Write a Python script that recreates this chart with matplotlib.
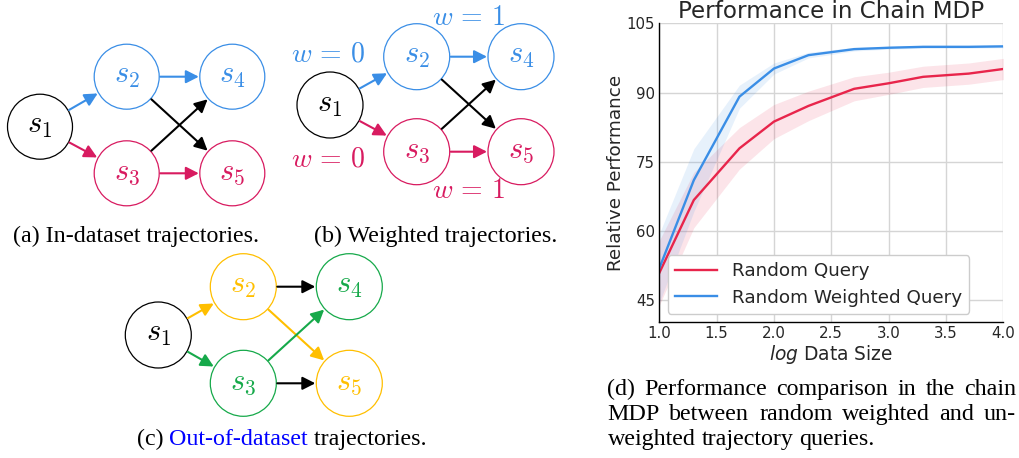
import matplotlib
matplotlib.use('Agg')
import matplotlib.pyplot as plt
from matplotlib.patches import Circle
import numpy as np

# ---------------- data (chart d) ----------------
log_size = [1.0, 1.301, 1.699, 2.0, 2.301, 2.699, 3.0, 3.301, 3.699, 4.0]
random_query = [50.9, 66.7, 77.9, 83.7, 87.1, 90.8, 92.0, 93.4, 94.1, 95.1]
random_query_std = [7.0, 6.0, 4.5, 3.7, 3.2, 2.6, 2.4, 2.3, 2.3, 2.3]
weighted_query = [51.9, 71.0, 89.1, 95.2, 98.1, 99.4, 99.7, 99.9, 99.9, 100.0]
weighted_query_std = [7.5, 6.8, 2.5, 1.2, 0.6, 0.4, 0.3, 0.3, 0.3, 0.3]
series_names = ["Random Query", "Random Weighted Query"]
x_ticks = [1.0, 1.5, 2.0, 2.5, 3.0, 3.5, 4.0]
y_ticks = [45, 60, 75, 90, 105]

# ---------------- diagram content ----------------
node_names = ["s1", "s2", "s3", "s4", "s5"]
node_labels = {"s1": r"$s_1$", "s2": r"$s_2$", "s3": r"$s_3$", "s4": r"$s_4$", "s5": r"$s_5$"}
edges = [("s1", "s2"), ("s1", "s3"), ("s2", "s4"), ("s3", "s5"), ("s2", "s5"), ("s3", "s4")]

BLUE = "#3a8ee6"
RED = "#d81b60"
YEL = "#ffbf00"
GRN = "#16a94a"
BLK = "#000000"

colors_a = {"s1": BLK, "s2": BLUE, "s3": RED, "s4": BLUE, "s5": RED}
edge_colors_a = [BLUE, RED, BLUE, RED, BLK, BLK]
colors_c = {"s1": BLK, "s2": YEL, "s3": GRN, "s4": GRN, "s5": YEL}
edge_colors_c = [YEL, GRN, BLK, BLK, YEL, GRN]

W, H = 1019, 458
fig = plt.figure(figsize=(W / 100, H / 100), dpi=100)
bg = fig.add_axes([0, 0, 1, 1])
bg.set_xlim(0, W)
bg.set_ylim(H, 0)
bg.axis('off')

plt.rcParams['mathtext.fontset'] = 'cm'
SERIF = ['Liberation Serif', 'DejaVu Serif']
NODE_FS = 22
W_FS = 20


def draw_graph(pos, ncol, ecol, r=33.0, fs=NODE_FS):
    for n in node_names:
        cx, cy = pos[n]
        bg.add_patch(Circle((cx, cy), r, fill=False, ec=ncol[n], lw=0.9))
        bg.text(cx, cy - 1, node_labels[n], ha='center', va='center', fontsize=fs,
                color=ncol[n])
    for (a, b), c in zip(edges, ecol):
        (x0, y0), (x1, y1) = pos[a], pos[b]
        d = np.hypot(x1 - x0, y1 - y0)
        ux, uy = (x1 - x0) / d, (y1 - y0) / d
        start = (x0 + ux * (r + 1), y0 + uy * (r + 1))
        end = (x1 - ux * (r + 1), y1 - uy * (r + 1))
        bg.annotate('', xy=end, xytext=start,
                    arrowprops=dict(arrowstyle='-|>,head_length=0.55,head_width=0.28',
                                    mutation_scale=14, color=c, lw=1.5,
                                    shrinkA=0, shrinkB=0))


pos_a = {"s1": (40, 126.7), "s2": (126.7, 76.7), "s3": (126.7, 173.3),
         "s4": (232.3, 76.7), "s5": (232.3, 173.3)}
pos_b = {"s1": (330, 105), "s2": (416.7, 56.7), "s3": (416.7, 151.7),
         "s4": (521, 56.7), "s5": (521, 151.7)}
pos_c = {"s1": (158.3, 335), "s2": (243.3, 286.7), "s3": (243.3, 383.3),
         "s4": (349.3, 286.7), "s5": (349.3, 383.3)}

draw_graph(pos_a, colors_a, edge_colors_a, r=32.5)
draw_graph(pos_b, colors_a, edge_colors_a, r=33.0)
draw_graph(pos_c, colors_c, edge_colors_c, r=33.0)

# weight labels in (b)
bg.text(328.3, 53.3, r"$w\,=\,0$", ha='center', va='center', fontsize=W_FS, color=BLUE)
bg.text(468.3, 16.7, r"$w\,=\,1$", ha='center', va='center', fontsize=W_FS, color=BLUE)
bg.text(328.3, 158.3, r"$w\,=\,0$", ha='center', va='center', fontsize=W_FS, color=RED)
bg.text(468.3, 190.0, r"$w\,=\,1$", ha='center', va='center', fontsize=W_FS, color=RED)

CAP_FS = 17.3
bg.text(136.5, 242, "(a) In-dataset trajectories.", ha='center', va='baseline',
        fontsize=CAP_FS, family=SERIF)
bg.text(435.8, 242, "(b) Weighted trajectories.", ha='center', va='baseline',
        fontsize=CAP_FS, family=SERIF)

renderer = fig.canvas.get_renderer()


def width_of(t):
    return t.get_window_extent(renderer).width


# (c) caption with coloured piece
pieces = [("(c) ", BLK), ("Out-of-dataset", "#0000ff"), (" trajectories.", BLK)]
tobjs = [bg.text(0, 445, s, ha='left', va='baseline', fontsize=CAP_FS, family=SERIF, color=c)
         for s, c in pieces]
ws = [width_of(t) for t in tobjs]
x = 281.7 - sum(ws) / 2
for t, w in zip(tobjs, ws):
    t.set_x(x)
    x += w

# (d) justified caption
cap_lines = [("(d) Performance comparison in the chain", True),
             ("MDP between random weighted and un-", True),
             ("weighted trajectory queries.", False)]
cap_y = [395, 420, 445]
x_left, x_right = 607.5, 1016
sp_probe = bg.text(0, 0, "x x", fontsize=CAP_FS, family=SERIF)
nsp_probe = bg.text(0, 0, "xx", fontsize=CAP_FS, family=SERIF)
space_w = width_of(sp_probe) - width_of(nsp_probe)
sp_probe.remove()
nsp_probe.remove()
for (line, just), yy in zip(cap_lines, cap_y):
    words = line.split(" ")
    objs = [bg.text(0, yy, w, ha='left', va='baseline', fontsize=CAP_FS, family=SERIF)
            for w in words]
    wl = [width_of(o) for o in objs]
    if just:
        gap = (x_right - x_left - sum(wl)) / (len(words) - 1)
    else:
        gap = space_w
    x = x_left
    for o, w in zip(objs, wl):
        o.set_x(x)
        x += w + gap

# ---------------- chart (d) ----------------
L, R_, T, B = 659.3, 1003.3, 23.3, 322.3
ax = fig.add_axes([L / W, 1 - B / H, (R_ - L) / W, (B - T) / H])
C_RED = "#e8254b"
C_BLUE = "#3a8ee6"
xs = np.array(log_size)
for mean, std, col, name in [(random_query, random_query_std, C_RED, series_names[0]),
                             (weighted_query, weighted_query_std, C_BLUE, series_names[1])]:
    m = np.array(mean)
    s = np.array(std)
    ax.fill_between(xs, m - s, m + s, color=col, alpha=0.12, lw=0)
    ax.plot(xs, m, color=col, lw=1.7, label=name)

ax.set_xlim(1.0, 4.0)
ax.set_ylim(40.2, 105)
ax.set_xticks(x_ticks)
ax.set_yticks(y_ticks)
ax.set_xticklabels([f"{v:.1f}" for v in x_ticks])
ax.grid(True, color='#d5d5d5', lw=1.0)
ax.set_axisbelow(True)
for sp in ['top', 'right']:
    ax.spines[sp].set_visible(False)
for sp in ['left', 'bottom']:
    ax.spines[sp].set_color('black')
    ax.spines[sp].set_linewidth(1.0)
ax.tick_params(length=0, labelsize=10.8, labelcolor='#262626', pad=3)
ax.set_title("Performance in Chain MDP", fontsize=16.6, color='#262626', pad=3)
ax.set_ylabel("Relative Performance", fontsize=13.2, color='#262626', labelpad=1.5)
ax.set_xlabel(r"$log$ Data Size", fontsize=13.4, color='#262626', labelpad=1,
              math_fontfamily='dejavusans')
leg = ax.legend(loc='lower left', fontsize=13.2, handlelength=2.3, frameon=True,
                fancybox=True, edgecolor='#cccccc', framealpha=1.0,
                borderaxespad=0.45, labelspacing=0.45)
for t in leg.get_texts():
    t.set_color('#262626')

fig.savefig("out.png", dpi=100)
